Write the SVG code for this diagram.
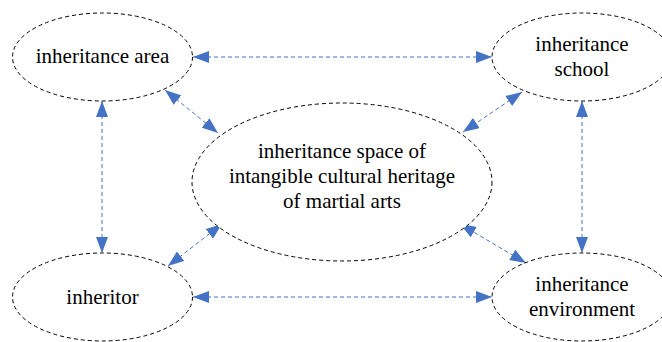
<svg xmlns="http://www.w3.org/2000/svg" width="662" height="342" viewBox="0 0 662 342">
<style>
.node ellipse{fill:#fff;stroke:#000;stroke-width:1;stroke-dasharray:4 3}
.edge{stroke:#4472C4;stroke-width:1;stroke-dasharray:4 3;fill:none;marker-start:url(#ah);marker-end:url(#ah)}
</style>
<defs>
<marker id="ah" viewBox="0 0 10 10" refX="10" refY="5" markerWidth="16" markerHeight="12" markerUnits="userSpaceOnUse" orient="auto-start-reverse" preserveAspectRatio="none">
<path d="M0,0 L10,5 L0,10 z" fill="#4472C4"/>
</marker>
</defs>
<rect width="662" height="342" fill="#fff"/>
<g id="connectors">
<line class="edge" x1="193" y1="57" x2="492" y2="57"/>
<line class="edge" x1="193" y1="297" x2="492" y2="297"/>
<line class="edge" x1="102" y1="101" x2="102" y2="253"/>
<line class="edge" x1="582" y1="101" x2="582" y2="253"/>
<line class="edge" x1="165" y1="90" x2="218" y2="133"/>
<line class="edge" x1="522" y1="92" x2="463" y2="132"/>
<line class="edge" x1="168" y1="266" x2="222" y2="224"/>
<line class="edge" x1="526" y1="263" x2="460" y2="224"/>
</g>
<g id="nodes" font-family="Liberation Serif, Times New Roman, serif" font-size="21" fill="#000" text-anchor="middle">
<g id="area" class="node">
<ellipse cx="102.5" cy="57" rx="90" ry="44"/>
<text x="102.5" y="63">inheritance area</text>
</g>
<g id="school" class="node">
<ellipse cx="582" cy="57" rx="90" ry="44"/>
<text x="582" y="51">inheritance</text>
<text x="582" y="76">school</text>
</g>
<g id="inheritor" class="node">
<ellipse cx="102.5" cy="297" rx="90" ry="44"/>
<text x="102.5" y="304">inheritor</text>
</g>
<g id="environment" class="node">
<ellipse cx="582" cy="297" rx="90" ry="44"/>
<text x="582" y="291">inheritance</text>
<text x="582" y="316">environment</text>
</g>
<g id="center" class="node">
<ellipse cx="342" cy="182" rx="150" ry="79"/>
<text x="342" y="158">inheritance space of</text>
<text x="342" y="183">intangible cultural heritage</text>
<text x="342" y="208">of martial arts</text>
</g>
</g>
</svg>
